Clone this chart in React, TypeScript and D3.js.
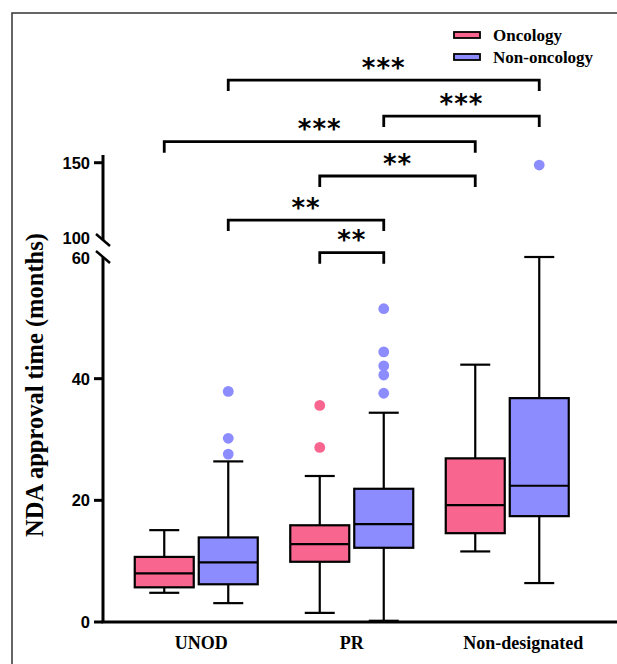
import React from 'react';
import * as d3 from 'd3';

const categories = ['UNOD', 'PR', 'Non-designated'];
const series = ['Oncology', 'Non-oncology'];
const seriesColors = ['#F8658F', '#8C8CFF'];

// box statistics per category (months)
const oncologyLow = [4.8, 1.5, 11.6];
const oncologyQ1 = [5.7, 9.9, 14.6];
const oncologyMedian = [8.0, 12.8, 19.2];
const oncologyQ3 = [10.7, 15.9, 26.9];
const oncologyHigh = [15.1, 24.0, 42.3];
const oncologyOutliers = [[], [28.7, 35.6], []];

const nonOncologyLow = [3.1, 0.2, 6.4];
const nonOncologyQ1 = [6.2, 12.2, 17.4];
const nonOncologyMedian = [9.8, 16.1, 22.4];
const nonOncologyQ3 = [13.9, 21.9, 36.8];
const nonOncologyHigh = [26.4, 34.4, 60.0];
const nonOncologyOutliers = [[27.6, 30.2, 37.9], [37.6, 40.6, 42.1, 44.4, 51.5], [148.5]];

const lowerTicks = [0, 20, 40, 60];
const upperTicks = [100, 150];

// significance brackets: [category, series] pairs, level on the upper axis scale
const bracketFrom = [[0, 1], [1, 1], [0, 0], [1, 0], [0, 1], [1, 0]];
const bracketTo = [[2, 1], [2, 1], [2, 0], [2, 0], [1, 1], [1, 1]];
const bracketLevel = [203.5, 180.2, 163.6, 141.4, 112.9, 91.8];
const bracketLabel = ['***', '***', '***', '**', '**', '**'];

const W = 617;
const H = 664;
const sans = '"Liberation Sans", Arial, sans-serif';
const serif = '"Liberation Serif", "Times New Roman", serif';

const App = () => {
  const axisX = 103;
  const x0 = d3.scaleBand().domain(categories).range([118.5, 585]).padding(0);
  const x1 = d3.scalePoint().domain(series).range([-32, 32]);
  const yLow = d3.scaleLinear().domain([0, 60]).range([622, 257]);
  const yHigh = d3.scaleLinear().domain([100, 155]).range([240, 155]);
  const y = (v: number) => (v <= 60 ? yLow(v) : yHigh(v));

  const boxW = 59;
  const capW = 30;
  // category labels sit a little right of the group centres in the original
  const labelShift = [5, 0, 16];

  const stats = [
    { low: oncologyLow, q1: oncologyQ1, med: oncologyMedian, q3: oncologyQ3, high: oncologyHigh, out: oncologyOutliers },
    { low: nonOncologyLow, q1: nonOncologyQ1, med: nonOncologyMedian, q3: nonOncologyQ3, high: nonOncologyHigh, out: nonOncologyOutliers },
  ];

  const cx = (ci: number, si: number) => (x0(categories[ci]) as number) + x0.bandwidth() / 2 + (x1(series[si]) as number);

  const boxes: React.ReactNode[] = [];
  stats.forEach((s, si) => {
    categories.forEach((c, ci) => {
      const x = cx(ci, si);
      const fill = seriesColors[si];
      boxes.push(
        <g key={`${si}-${ci}`} stroke="#000" strokeWidth={2.2}>
          <line x1={x} x2={x} y1={y(s.high[ci])} y2={y(s.q3[ci])} />
          <line x1={x} x2={x} y1={y(s.q1[ci])} y2={y(s.low[ci])} />
          <line x1={x - capW / 2} x2={x + capW / 2} y1={y(s.high[ci])} y2={y(s.high[ci])} />
          <line x1={x - capW / 2} x2={x + capW / 2} y1={y(s.low[ci])} y2={y(s.low[ci])} />
          <rect x={x - boxW / 2} width={boxW} y={y(s.q3[ci])} height={y(s.q1[ci]) - y(s.q3[ci])} fill={fill} />
          <line x1={x - boxW / 2} x2={x + boxW / 2} y1={y(s.med[ci])} y2={y(s.med[ci])} />
          {s.out[ci].map((v, k) => (
            <circle key={k} cx={x} cy={y(v)} r={5.4} fill={fill} stroke="none" />
          ))}
        </g>
      );
    });
  });

  const brackets = bracketLevel.map((lv, i) => {
    const xa = cx(bracketFrom[i][0], bracketFrom[i][1]);
    const xb = cx(bracketTo[i][0], bracketTo[i][1]);
    const yy = yHigh(lv);
    return (
      <g key={i}>
        <path d={`M${xa},${yy + 11}V${yy}H${xb}V${yy + 11}`} fill="none" stroke="#000" strokeWidth={2.8} />
        <text x={(xa + xb) / 2} y={yy - 3.5} textAnchor="middle" fontFamily='"DejaVu Sans", sans-serif' fontWeight="bold" fontSize={26} letterSpacing={1}>
          {bracketLabel[i]}
        </text>
      </g>
    );
  });

  return (
    <svg width={W} height={H} style={{ position: 'absolute', left: 0, top: 0, background: '#fff' }}>
      <rect x={12} y={13} width={W} height={H} fill="none" stroke="#333" strokeWidth={1.5} />

      {/* broken y axis */}
      <line x1={axisX} x2={axisX} y1={yLow(0)} y2={yLow(60)} stroke="#000" strokeWidth={3} />
      <line x1={axisX} x2={axisX} y1={yHigh(100)} y2={yHigh(155)} stroke="#000" strokeWidth={3} />
      {lowerTicks.filter((t) => t !== 60).map((t) => (
        <line key={t} x1={axisX - 9} x2={axisX} y1={yLow(t)} y2={yLow(t)} stroke="#000" strokeWidth={3} />
      ))}
      {upperTicks.filter((t) => t !== 100).map((t) => (
        <line key={t} x1={axisX - 9} x2={axisX} y1={yHigh(t)} y2={yHigh(t)} stroke="#000" strokeWidth={3} />
      ))}
      <line x1={axisX - 7} x2={axisX + 7} y1={yHigh(100) - 6} y2={yHigh(100) + 6} stroke="#000" strokeWidth={2.5} />
      <line x1={axisX - 7} x2={axisX + 7} y1={yLow(60) - 6} y2={yLow(60) + 6} stroke="#000" strokeWidth={2.5} />
      {lowerTicks.map((t) => (
        <text key={t} x={axisX - 13} y={yLow(t) + (t === 60 ? 1 : 0)} dy="0.36em" textAnchor="end" fontFamily={sans} fontWeight="bold" fontSize={16.5}>
          {t}
        </text>
      ))}
      {upperTicks.map((t) => (
        <text key={t} x={axisX - 13} y={yHigh(t) - (t === 100 ? 1.5 : 0)} dy="0.36em" textAnchor="end" fontFamily={sans} fontWeight="bold" fontSize={16.5}>
          {t}
        </text>
      ))}
      <text transform={`translate(43,385) rotate(-90)`} textAnchor="middle" fontFamily={serif} fontWeight="bold" fontSize={24.5}>
        NDA approval time (months)
      </text>

      {/* x axis */}
      <line x1={axisX - 1.5} x2={W} y1={yLow(0)} y2={yLow(0)} stroke="#000" strokeWidth={3} />
      {categories.map((c, i) => (
        <text key={c} x={(x0(c) as number) + x0.bandwidth() / 2 + labelShift[i]} y={649} textAnchor="middle" fontFamily={serif} fontWeight="bold" fontSize={18}>
          {c}
        </text>
      ))}

      {boxes}
      {brackets}

      {/* legend */}
      {series.map((s, i) => (
        <g key={s} transform={`translate(454,${35 + i * 22})`}>
          <rect x={0} y={-3} width={26} height={6} fill={seriesColors[i]} stroke="#000" strokeWidth={1.8} />
          <text x={39} y={0} dy="0.33em" fontFamily={serif} fontWeight="bold" fontSize={17}>
            {s}
          </text>
        </g>
      ))}
    </svg>
  );
};

export default App;
